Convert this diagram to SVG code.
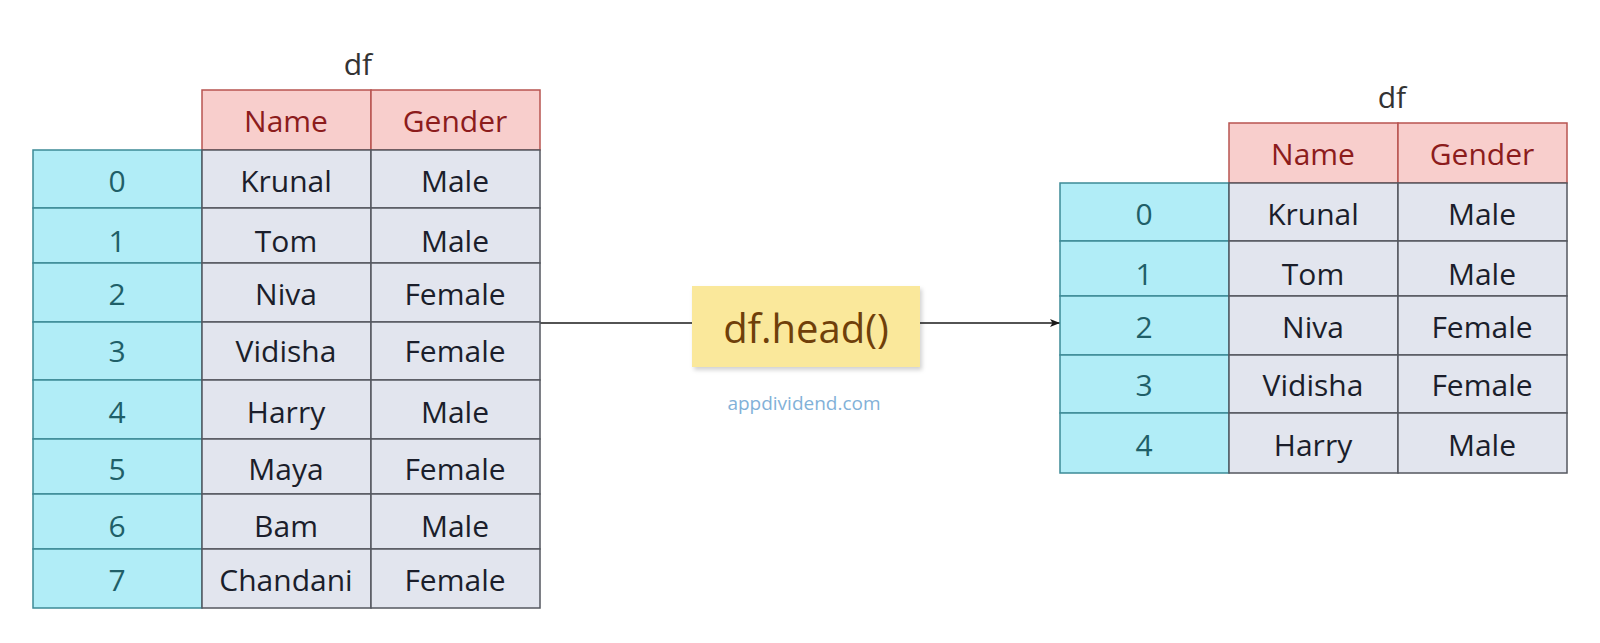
<svg xmlns="http://www.w3.org/2000/svg" width="1600" height="643" viewBox="0 0 1600 643">
<style>
text{font-family:"Open Sans","Noto Sans","Liberation Sans",sans-serif;text-anchor:middle}
.hd rect{fill:#f8cecc;stroke:#b85450;stroke-width:1.5}
.hd text{fill:#8c1c1c;font-size:30px}
.ix rect{fill:#b1edf7;stroke:#3d8a97;stroke-width:1.5}
.ix text{fill:#1f5f68;font-size:30px}
.dc rect{fill:#e2e5ee;stroke:#54575f;stroke-width:1.5}
.dc text{fill:#1b1e2b;font-size:30px}
.ttl{fill:#333;font-size:30px}
.conn line{stroke:#1a1a1a;stroke-width:1.5}
</style>
<defs>
<marker id="arr" markerWidth="10" markerHeight="8" refX="10" refY="4" orient="auto" markerUnits="userSpaceOnUse">
<path d="M0,0 L10,4 L0,8 L2.5,4 z" fill="#1a1a1a"/>
</marker>
<filter id="sh" x="-10%" y="-10%" width="130%" height="140%">
<feDropShadow dx="2" dy="3" stdDeviation="2" flood-color="#000" flood-opacity="0.18"/>
</filter>
</defs>
<rect width="1600" height="643" fill="#fff"/>

<g id="connectors" class="conn">
<line x1="540" y1="323" x2="692" y2="323"/>
<line x1="920" y1="323" x2="1060" y2="323" marker-end="url(#arr)"/>
</g>

<g id="left-table">
<text class="ttl" x="358" y="75">df</text>
<g class="hd">
<rect x="202" y="90" width="169" height="60"/><text x="286" y="132">Name</text>
<rect x="371" y="90" width="169" height="60"/><text x="455" y="132">Gender</text>
</g>
<g class="ix">
<rect x="33" y="150" width="169" height="58"/><text x="117" y="192">0</text>
<rect x="33" y="208" width="169" height="55"/><text x="117" y="252">1</text>
<rect x="33" y="263" width="169" height="59"/><text x="117" y="305">2</text>
<rect x="33" y="322" width="169" height="58"/><text x="117" y="362">3</text>
<rect x="33" y="380" width="169" height="59"/><text x="117" y="423">4</text>
<rect x="33" y="439" width="169" height="55"/><text x="117" y="480">5</text>
<rect x="33" y="494" width="169" height="55"/><text x="117" y="537">6</text>
<rect x="33" y="549" width="169" height="59"/><text x="117" y="591">7</text>
</g>
<g class="dc">
<rect x="202" y="150" width="169" height="58"/><text x="286" y="192">Krunal</text>
<rect x="371" y="150" width="169" height="58"/><text x="455" y="192">Male</text>
<rect x="202" y="208" width="169" height="55"/><text x="286" y="252">Tom</text>
<rect x="371" y="208" width="169" height="55"/><text x="455" y="252">Male</text>
<rect x="202" y="263" width="169" height="59"/><text x="286" y="305">Niva</text>
<rect x="371" y="263" width="169" height="59"/><text x="455" y="305">Female</text>
<rect x="202" y="322" width="169" height="58"/><text x="286" y="362">Vidisha</text>
<rect x="371" y="322" width="169" height="58"/><text x="455" y="362">Female</text>
<rect x="202" y="380" width="169" height="59"/><text x="286" y="423">Harry</text>
<rect x="371" y="380" width="169" height="59"/><text x="455" y="423">Male</text>
<rect x="202" y="439" width="169" height="55"/><text x="286" y="480">Maya</text>
<rect x="371" y="439" width="169" height="55"/><text x="455" y="480">Female</text>
<rect x="202" y="494" width="169" height="55"/><text x="286" y="537">Bam</text>
<rect x="371" y="494" width="169" height="55"/><text x="455" y="537">Male</text>
<rect x="202" y="549" width="169" height="59"/><text x="286" y="591">Chandani</text>
<rect x="371" y="549" width="169" height="59"/><text x="455" y="591">Female</text>
</g>
</g>

<g id="head-op">
<rect x="692" y="286" width="228" height="81" fill="#fae89b" filter="url(#sh)"/>
<text x="806" y="343" style="font-size:40px;fill:#6f3f0a">df.head()</text>
</g>

<g id="watermark">
<text x="804" y="410" style="font-size:19px;fill:#82b1d8">appdividend.com</text>
</g>

<g id="right-table">
<text class="ttl" x="1392" y="108">df</text>
<g class="hd">
<rect x="1229" y="123" width="169" height="60"/><text x="1313" y="165">Name</text>
<rect x="1398" y="123" width="169" height="60"/><text x="1482" y="165">Gender</text>
</g>
<g class="ix">
<rect x="1060" y="183" width="169" height="58"/><text x="1144" y="225">0</text>
<rect x="1060" y="241" width="169" height="55"/><text x="1144" y="285">1</text>
<rect x="1060" y="296" width="169" height="59"/><text x="1144" y="338">2</text>
<rect x="1060" y="355" width="169" height="58"/><text x="1144" y="396">3</text>
<rect x="1060" y="413" width="169" height="60"/><text x="1144" y="456">4</text>
</g>
<g class="dc">
<rect x="1229" y="183" width="169" height="58"/><text x="1313" y="225">Krunal</text>
<rect x="1398" y="183" width="169" height="58"/><text x="1482" y="225">Male</text>
<rect x="1229" y="241" width="169" height="55"/><text x="1313" y="285">Tom</text>
<rect x="1398" y="241" width="169" height="55"/><text x="1482" y="285">Male</text>
<rect x="1229" y="296" width="169" height="59"/><text x="1313" y="338">Niva</text>
<rect x="1398" y="296" width="169" height="59"/><text x="1482" y="338">Female</text>
<rect x="1229" y="355" width="169" height="58"/><text x="1313" y="396">Vidisha</text>
<rect x="1398" y="355" width="169" height="58"/><text x="1482" y="396">Female</text>
<rect x="1229" y="413" width="169" height="60"/><text x="1313" y="456">Harry</text>
<rect x="1398" y="413" width="169" height="60"/><text x="1482" y="456">Male</text>
</g>
</g>
</svg>
